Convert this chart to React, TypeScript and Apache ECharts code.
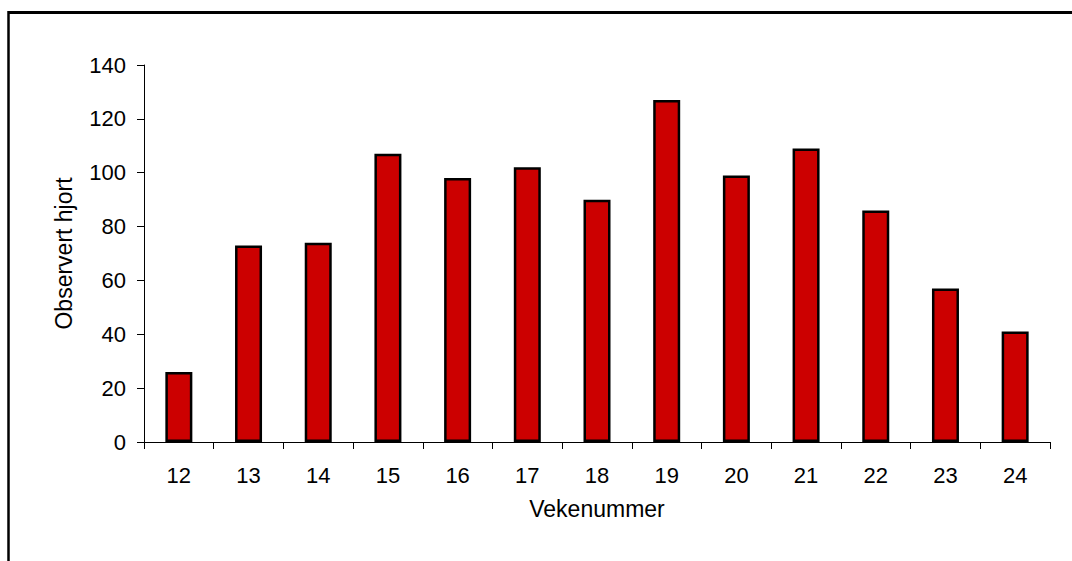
import React, { useEffect, useRef } from "react";
import * as echarts from "echarts";

const weeks = ["12", "13", "14", "15", "16", "17", "18", "19", "20", "21", "22", "23", "24"];
const observed = [26, 73, 74, 107, 98, 102, 90, 127, 99, 109, 86, 57, 41];
const yTicks = { min: 0, max: 140, interval: 20 };

export default function App() {
  const ref = useRef<HTMLDivElement>(null);
  useEffect(() => {
    if (!ref.current) return;
    const chart = echarts.init(ref.current, null, { renderer: "svg" });
    const font = "'Liberation Sans', Arial, sans-serif";
    chart.setOption({
      animation: false,
      backgroundColor: "#ffffff",
      textStyle: { fontFamily: font, color: "#000" },
      grid: { left: 144, right: 22, top: 65, bottom: 119, containLabel: false },
      graphic: [
        { type: "line", shape: { x1: 8.5, y1: 12.5, x2: 1072, y2: 12.5 }, style: { stroke: "#000", lineWidth: 3 } },
        { type: "line", shape: { x1: 8.5, y1: 11, x2: 8.5, y2: 561 }, style: { stroke: "#000", lineWidth: 2.5 } },
      ],
      xAxis: {
        type: "category",
        data: weeks,
        boundaryGap: true,
        name: "Vekenummer",
        nameLocation: "middle",
        nameGap: 55,
        nameTextStyle: { fontSize: 23, color: "#000", fontFamily: font, verticalAlign: "top" },
        axisLine: { lineStyle: { color: "#000", width: 1 } },
        axisTick: { show: true, alignWithLabel: false, length: 7, lineStyle: { color: "#000" } },
        axisLabel: { fontSize: 22, color: "#000", margin: 22, fontFamily: font },
        splitLine: { show: false },
      },
      yAxis: {
        type: "value",
        min: yTicks.min,
        max: yTicks.max,
        interval: yTicks.interval,
        name: "Observert hjort",
        nameLocation: "middle",
        nameRotate: 90,
        nameGap: 69,
        nameTextStyle: { fontSize: 23, color: "#000", fontFamily: font },
        axisLine: { show: true, lineStyle: { color: "#000", width: 1 } },
        axisTick: { show: true, length: 7, lineStyle: { color: "#000" } },
        axisLabel: { fontSize: 22, color: "#000", margin: 18, fontFamily: font },
        splitLine: { show: false },
      },
      series: [
        {
          type: "bar",
          data: observed,
          barWidth: 27,
          itemStyle: { color: "#CC0000", borderColor: "#000", borderWidth: 2.5 },
        },
      ],
    });
    return () => chart.dispose();
  }, []);
  return (
    <div
      ref={ref}
      style={{ position: "absolute", left: 0, top: 0, width: 1072, height: 561 }}
    />
  );
}
